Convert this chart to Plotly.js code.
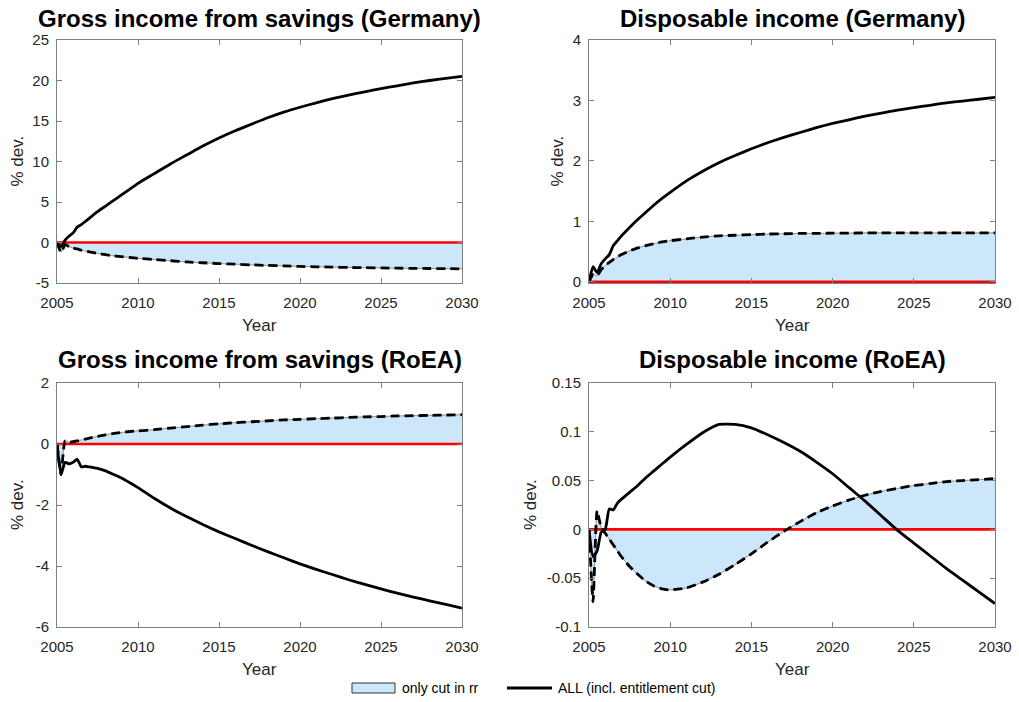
<!DOCTYPE html>
<html>
<head>
<meta charset="utf-8">
<script src="https://cdn.plot.ly/plotly-3.0.1.min.js"></script>
<style>
  html, body { margin: 0; padding: 0; background: #fff; }
  #chart { width: 1019px; height: 702px; }
</style>
</head>
<body>
<div id="chart"></div>
<script>
// Time axis: quarterly for the first two years, then half-yearly and yearly
const years = [2005, 2005.25, 2005.5, 2005.75, 2006, 2006.25, 2006.5, 2006.75, 2007,
  2007.5, 2008, 2008.5, 2009, 2009.5, 2010,
  2011, 2012, 2013, 2014, 2015, 2016, 2017, 2018, 2019, 2020,
  2021, 2022, 2023, 2024, 2025, 2026, 2027, 2028, 2029, 2030];

// Gross income from savings, Germany (% dev.)
const deSavingsAll = [0, -0.5, 0.3, 0.8, 1.2, 1.9, 2.2, 2.6, 3.0,
  3.8, 4.5, 5.2, 5.9, 6.6, 7.3,
  8.5, 9.7, 10.8, 11.9, 12.9, 13.8, 14.6, 15.4, 16.1, 16.7,
  17.25, 17.75, 18.2, 18.6, 19.0, 19.35, 19.7, 20.0, 20.27, 20.5];
const deSavingsRr = [0, -1.2, -0.3, -0.5, -0.7, -0.8, -0.95, -1.05, -1.15,
  -1.35, -1.5, -1.65, -1.75, -1.85, -1.95,
  -2.1, -2.25, -2.4, -2.5, -2.6, -2.68, -2.76, -2.83, -2.89, -2.95,
  -3.0, -3.04, -3.08, -3.11, -3.14, -3.17, -3.19, -3.21, -3.23, -3.25];

// Disposable income, Germany (% dev.)
const deDispAll = [0, 0.25, 0.15, 0.3, 0.38, 0.45, 0.6, 0.68, 0.76,
  0.9, 1.03, 1.15, 1.27, 1.38, 1.48,
  1.67, 1.83, 1.97, 2.09, 2.2, 2.3, 2.39, 2.47, 2.55, 2.62,
  2.68, 2.74, 2.79, 2.84, 2.88, 2.92, 2.96, 2.99, 3.02, 3.05];
const deDispRr = [0, 0.12, 0.1, 0.2, 0.27, 0.32, 0.37, 0.41, 0.45,
  0.51, 0.56, 0.6, 0.63, 0.66, 0.68,
  0.71, 0.74, 0.76, 0.77, 0.78, 0.79, 0.795, 0.8, 0.8, 0.805,
  0.805, 0.81, 0.81, 0.81, 0.81, 0.81, 0.81, 0.81, 0.81, 0.81];

// Gross income from savings, rest of euro area (% dev.)
const roeaSavingsAll = [0, -1.0, -0.6, -0.65, -0.6, -0.5, -0.75, -0.73, -0.75,
  -0.8, -0.88, -1.0, -1.12, -1.27, -1.43,
  -1.78, -2.1, -2.38, -2.64, -2.88, -3.1, -3.32, -3.53, -3.73, -3.93,
  -4.11, -4.28, -4.45, -4.6, -4.75, -4.89, -5.02, -5.14, -5.26, -5.38];
const roeaSavingsRr = [0, -1.0, 0.1, 0.05, 0.08, 0.1, 0.13, 0.16, 0.19,
  0.25, 0.3, 0.35, 0.38, 0.41, 0.43,
  0.47, 0.52, 0.57, 0.62, 0.66, 0.7, 0.73, 0.76, 0.79, 0.81,
  0.83, 0.85, 0.87, 0.89, 0.9, 0.92, 0.93, 0.94, 0.95, 0.96];

// Disposable income, rest of euro area (% dev.)
const roeaDispAll = [0, -0.028, -0.022, -0.003, 0.0, 0.021, 0.02, 0.027, 0.031,
  0.038, 0.045, 0.053, 0.06, 0.067, 0.074,
  0.087, 0.099, 0.1075, 0.1075, 0.104, 0.097, 0.089, 0.08, 0.069, 0.057,
  0.043, 0.029, 0.014, -0.001, -0.014, -0.027, -0.04, -0.052, -0.064, -0.076];
const roeaDispRr = [0, -0.074, 0.019, 0.002, -0.004, -0.01, -0.016, -0.022, -0.028,
  -0.038, -0.046, -0.053, -0.058, -0.061, -0.062,
  -0.06, -0.054, -0.046, -0.036, -0.025, -0.013, -0.002, 0.008, 0.017, 0.024,
  0.03, 0.035, 0.039, 0.042, 0.045, 0.047, 0.049, 0.05, 0.051, 0.052];

// Zero baseline
const baseYears = [2005, 2030];
const baseValues = [0, 0];

// Panel titles and tick labels
const panelTitles = [
  'Gross income from savings (Germany)',
  'Disposable income (Germany)',
  'Gross income from savings (RoEA)',
  'Disposable income (RoEA)'
];
const xTicks = [2005, 2010, 2015, 2020, 2025, 2030];
const yTicks1 = [-5, 0, 5, 10, 15, 20, 25];
const yTicks2 = [0, 1, 2, 3, 4];
const yTicks3 = [-6, -4, -2, 0, 2];
const yTicks4 = [-0.1, -0.05, 0, 0.05, 0.1, 0.15];
const yTickText1 = ['-5', '0', '5', '10', '15', '20', '25'];
const yTickText2 = ['0', '1', '2', '3', '4'];
const yTickText3 = ['-6', '-4', '-2', '0', '2'];
const yTickText4 = ['-0.1', '-0.05', '0', '0.05', '0.1', '0.15'];
const legendLabels = ['only cut in rr', 'ALL (incl. entitlement cut)'];

const W = 1019, H = 702;
const px = p => p / W;
const py = p => 1 - p / H;

const FONT = 'Liberation Sans, Arial, Helvetica, sans-serif';
const FILL = 'rgb(204,230,250)';
const TXT = '#262626';
const SMOOTH = 0.5;

function panelTraces(xa, ya, rr, all) {
  return [
    { x: years, y: rr, xaxis: xa, yaxis: ya, type: 'scatter', mode: 'lines',
      fill: 'tozeroy', fillcolor: FILL,
      line: { color: '#8a8a8a', width: 1, shape: 'spline', smoothing: SMOOTH },
      hoverinfo: 'skip', showlegend: false },
    { x: baseYears, y: baseValues, xaxis: xa, yaxis: ya, type: 'scatter', mode: 'lines',
      line: { color: '#ff0000', width: 2.6 }, hoverinfo: 'skip', showlegend: false },
    { x: years, y: rr, xaxis: xa, yaxis: ya, type: 'scatter', mode: 'lines',
      line: { color: '#000', width: 2.8, dash: '9px,5px', shape: 'spline', smoothing: SMOOTH },
      hoverinfo: 'skip', showlegend: false },
    { x: years, y: all, xaxis: xa, yaxis: ya, type: 'scatter', mode: 'lines',
      line: { color: '#000', width: 2.8, shape: 'spline', smoothing: SMOOTH },
      hoverinfo: 'skip', showlegend: false }
  ];
}

const traces = [].concat(
  panelTraces('x', 'y', deSavingsRr, deSavingsAll),
  panelTraces('x2', 'y2', deDispRr, deDispAll),
  panelTraces('x3', 'y3', roeaSavingsRr, roeaSavingsAll),
  panelTraces('x4', 'y4', roeaDispRr, roeaDispAll)
);

function xAxis(l, r, anchor) {
  return {
    domain: [px(l), px(r)], anchor: anchor, range: [2005, 2030],
    tickvals: xTicks, ticks: 'inside', ticklen: 5, tickcolor: '#808080',
    ticklabelstandoff: 6,
    showline: true, linecolor: '#808080', linewidth: 1, mirror: 'ticks',
    showgrid: false, zeroline: false,
    tickfont: { family: FONT, size: 15, color: TXT }
  };
}
function yAxis(t, b, anchor, range, vals, text) {
  return {
    domain: [py(b), py(t)], anchor: anchor, range: range,
    tickvals: vals, ticktext: text, ticks: 'inside', ticklen: 5, tickcolor: '#808080',
    ticklabelstandoff: 4,
    showline: true, linecolor: '#808080', linewidth: 1, mirror: 'ticks',
    showgrid: false, zeroline: false,
    tickfont: { family: FONT, size: 15, color: TXT }
  };
}

const boxes = [
  { l: 57, r: 462, t: 40, b: 283 },
  { l: 589, r: 995, t: 40, b: 283 },
  { l: 57, r: 462, t: 383, b: 627 },
  { l: 589, r: 995, t: 383, b: 627 }
];

const annotations = [];
const titleY = [18, 18, 360, 360];
const yLabelX = [17, 557, 17, 530];
boxes.forEach((b, i) => {
  annotations.push({
    text: '<b>' + panelTitles[i] + '</b>', xref: 'paper', yref: 'paper',
    x: px((b.l + b.r) / 2), y: py(titleY[i]), xanchor: 'center', yanchor: 'middle',
    showarrow: false, font: { family: FONT, size: 24, color: '#000' }
  });
  annotations.push({
    text: 'Year', xref: 'paper', yref: 'paper',
    x: px((b.l + b.r) / 2), y: py(b.b + 42), xanchor: 'center', yanchor: 'middle',
    showarrow: false, font: { family: FONT, size: 17, color: TXT }
  });
  annotations.push({
    text: '% dev.', xref: 'paper', yref: 'paper', textangle: -90,
    x: px(yLabelX[i]), y: py((b.t + b.b) / 2), xanchor: 'center', yanchor: 'middle',
    showarrow: false, font: { family: FONT, size: 17, color: TXT }
  });
});

// Legend row along the bottom
annotations.push({
  text: legendLabels[0], xref: 'paper', yref: 'paper', x: px(400), y: py(688),
  xanchor: 'left', yanchor: 'middle', showarrow: false,
  font: { family: FONT, size: 14, color: '#000' }
});
annotations.push({
  text: legendLabels[1], xref: 'paper', yref: 'paper', x: px(556), y: py(688),
  xanchor: 'left', yanchor: 'middle', showarrow: false,
  font: { family: FONT, size: 14, color: '#000' }
});
const shapes = [
  { type: 'rect', xref: 'paper', yref: 'paper', x0: px(352), x1: px(395), y0: py(693), y1: py(683),
    fillcolor: FILL, line: { color: '#333', width: 1 } },
  { type: 'line', xref: 'paper', yref: 'paper', x0: px(507), x1: px(552), y0: py(688), y1: py(688),
    line: { color: '#000', width: 3 } }
];

const layout = {
  width: W, height: H,
  margin: { l: 0, r: 0, t: 0, b: 0 },
  paper_bgcolor: '#fff', plot_bgcolor: '#fff',
  showlegend: false,
  xaxis: xAxis(57, 462, 'y'),
  yaxis: yAxis(40, 283, 'x', [-5, 25], yTicks1, yTickText1),
  xaxis2: xAxis(589, 995, 'y2'),
  yaxis2: yAxis(40, 283, 'x2', [-0.02, 4], yTicks2, yTickText2),
  xaxis3: xAxis(57, 462, 'y3'),
  yaxis3: yAxis(383, 627, 'x3', [-6, 2], yTicks3, yTickText3),
  xaxis4: xAxis(589, 995, 'y4'),
  yaxis4: yAxis(383, 627, 'x4', [-0.1, 0.15], yTicks4, yTickText4),
  annotations: annotations,
  shapes: shapes
};

Plotly.newPlot('chart', traces, layout, { staticPlot: true });
</script>
</body>
</html>
